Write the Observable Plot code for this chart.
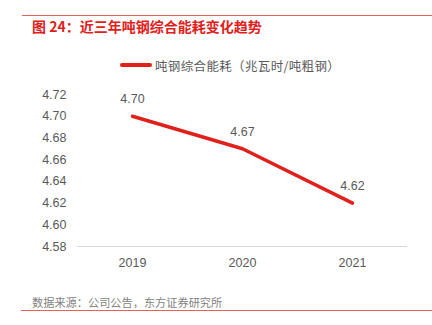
<!DOCTYPE html>
<html>
<head>
<meta charset="utf-8">
<script src="https://cdn.jsdelivr.net/npm/d3@7"></script>
<script src="https://cdn.jsdelivr.net/npm/@observablehq/plot@0.6"></script>
<style>
  html, body { margin: 0; padding: 0; background: #fff; }
  #wrap { position: relative; width: 432px; height: 325px; overflow: hidden; font-family: "Liberation Sans", Arial, "Noto Sans CJK SC", sans-serif; }
  .rule { position: absolute; height: 1px; background: #E8605A; }
  #title { position: absolute; left: 32px; top: 17px; font-size: 14px; font-weight: bold; color: #E0201B; font-family: "Noto Sans CJK SC", sans-serif; line-height: 18px; white-space: nowrap; }
  #legend { position: absolute; left: 120px; top: 56px; height: 18px; display: flex; align-items: center; white-space: nowrap; }
  #legend .sw { width: 32px; height: 4px; background: #E0201B; border-radius: 2px; margin-right: 3px; }
  #legend .lt { font-size: 12.5px; color: #595959; font-family: "Noto Sans CJK SC", sans-serif; letter-spacing: 0.35px; }
  #source { position: absolute; left: 32px; top: 294px; font-size: 11.2px; color: #7f7f7f; font-family: "Noto Sans CJK SC", sans-serif; line-height: 16px; white-space: nowrap; }
  #plot { position: absolute; left: 0; top: 80px; }
</style>
</head>
<body>
<div id="wrap">
  <div class="rule" style="left:22px; width:410px; top:15px;"></div>
  <div id="title">图 24：近三年吨钢综合能耗变化趋势</div>
  <div id="legend"><div class="sw"></div><div class="lt">吨钢综合能耗（兆瓦时/吨粗钢）</div></div>
  <div id="plot"></div>
  <div id="source">数据来源：公司公告，东方证券研究所</div>
  <div class="rule" style="left:21px; width:411px; top:310px;"></div>
</div>
<script>
const years = ["2019", "2020", "2021"];
const energy = [4.70, 4.67, 4.62];
const yTicks = [4.58, 4.60, 4.62, 4.64, 4.66, 4.68, 4.70, 4.72];
const valueLabels = ["4.70", "4.67", "4.62"];

const data = years.map((y, i) => ({year: y, value: energy[i], label: valueLabels[i]}));

const chart = Plot.plot({
  width: 432,
  height: 200,
  marginTop: 14,
  marginBottom: 34,
  marginLeft: 77,
  marginRight: 25,
  style: {fontFamily: "'Liberation Sans', Arial, sans-serif", fontSize: "12.5px", color: "#595959", background: "transparent"},
  x: {type: "point", domain: years, padding: 0.5, label: null},
  y: {domain: [4.58, 4.72], label: null},
  marks: [
    Plot.ruleY([4.58], {stroke: "#d9d9d9", strokeWidth: 1}),
    Plot.axisY({ticks: yTicks, tickFormat: d => d.toFixed(2), tickSize: 0, tickPadding: 11, fill: "#595959", fontSize: 12.5, label: null}),
    Plot.axisX({tickSize: 0, tickPadding: 12, fill: "#595959", fontSize: 12.5, label: null}),
    Plot.line(data, {x: "year", y: "value", stroke: "#E0201B", strokeWidth: 3.5, strokeLinecap: "round", strokeLinejoin: "round"}),
    Plot.text(data, {x: "year", y: "value", text: "label", dy: -17, fill: "#595959", fontSize: 12.5})
  ]
});
document.getElementById("plot").appendChild(chart);
</script>
</body>
</html>
